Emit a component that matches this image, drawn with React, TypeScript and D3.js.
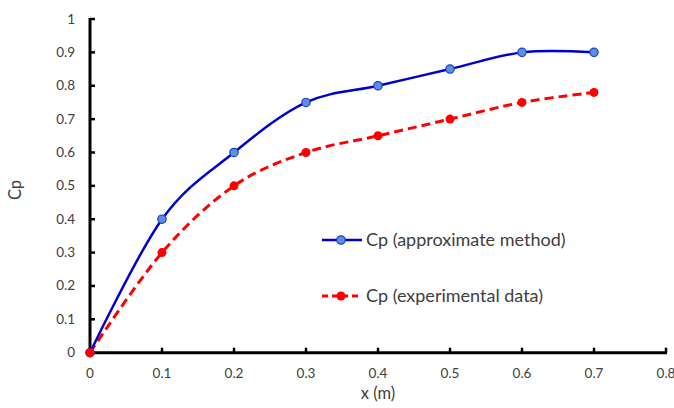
import React from "react";
import * as d3 from "d3";

const xValues = [0, 0.1, 0.2, 0.3, 0.4, 0.5, 0.6, 0.7];
const approxValues = [0, 0.4, 0.6, 0.75, 0.8, 0.85, 0.9, 0.9];
const expValues = [0, 0.3, 0.5, 0.6, 0.65, 0.7, 0.75, 0.78];
const xTicks = [0, 0.1, 0.2, 0.3, 0.4, 0.5, 0.6, 0.7, 0.8];
const yTicks = [0, 0.1, 0.2, 0.3, 0.4, 0.5, 0.6, 0.7, 0.8, 0.9, 1];
const seriesNames = ["Cp (approximate method)", "Cp (experimental data)"];

const W = 674, H = 408;
const FONT = "Lato, 'Open Sans', sans-serif";

export default function App() {
  const x = d3.scaleLinear().domain([0, 0.8]).range([90, 666]);
  const y = d3.scaleLinear().domain([0, 1]).range([352.7, 19]);
  const line = d3
    .line<number>()
    .x((_, i) => x(xValues[i]))
    .y((d) => y(d))
    .curve(d3.curveCardinal.tension(0));
  const blue = "#0000CC";
  const red = "#FF0000";
  return (
    <svg width={W} height={H} style={{ position: "absolute", left: 0, top: 0, background: "#fff" }}>
      <rect width={W} height={H} fill="#fff" />
      {yTicks.map((t) => (
        <g key={"y" + t}>
          <line x1={x(0)} x2={x(0) + 5} y1={y(t)} y2={y(t)} stroke="#000" strokeWidth={2.5} />
          <text x={75} y={y(t) + 4.5} textAnchor="end" fontSize={13.5} fill="#404040" fontFamily={FONT}>
            {String(t)}
          </text>
        </g>
      ))}
      {xTicks.map((t) => (
        <g key={"x" + t}>
          <line x1={x(t)} x2={x(t)} y1={y(0)} y2={y(0) - 5} stroke="#000" strokeWidth={2.5} />
          <text x={x(t)} y={378} textAnchor="middle" fontSize={13.5} fill="#404040" fontFamily={FONT}>
            {String(t)}
          </text>
        </g>
      ))}
      <line x1={x(0)} x2={x(0)} y1={y(1) - 1} y2={y(0) + 1.5} stroke="#000" strokeWidth={3} />
      <line x1={x(0) - 1.5} x2={x(0.8) + 1} y1={y(0)} y2={y(0)} stroke="#000" strokeWidth={3} />
      <path d={line(expValues) || ""} fill="none" stroke={red} strokeWidth={3} strokeDasharray="9,5" />
      <path d={line(approxValues) || ""} fill="none" stroke={blue} strokeWidth={2.5} />
      {approxValues.map((v, i) => (
        <circle key={"a" + i} cx={x(xValues[i])} cy={y(v)} r={4.2} fill="#5B8FE6" stroke="#1F3FBF" strokeWidth={1.2} />
      ))}
      {expValues.map((v, i) => (
        <circle key={"e" + i} cx={x(xValues[i])} cy={y(v)} r={4.5} fill={red} />
      ))}
      <text x={378} y={399} textAnchor="middle" fontSize={16.5} fill="#404040" fontFamily={FONT}>
        x (m)
      </text>
      <text transform={`translate(21,${190}) rotate(-90)`} textAnchor="middle" fontSize={16.5} fill="#404040" fontFamily={FONT}>
        Cp
      </text>
      <line x1={322} x2={362} y1={240} y2={240} stroke={blue} strokeWidth={2.5} />
      <circle cx={341} cy={240} r={4.2} fill="#5B8FE6" stroke="#1F3FBF" strokeWidth={1.2} />
      <text x={366} y={246} fontSize={18} fill="#404040" fontFamily={FONT}>
        {seriesNames[0]}
      </text>
      <line x1={322} x2={362} y1={296} y2={296} stroke={red} strokeWidth={3} strokeDasharray="6,4" />
      <circle cx={341} cy={296} r={4.5} fill={red} />
      <text x={366} y={302} fontSize={18} fill="#404040" fontFamily={FONT}>
        {seriesNames[1]}
      </text>
    </svg>
  );
}
